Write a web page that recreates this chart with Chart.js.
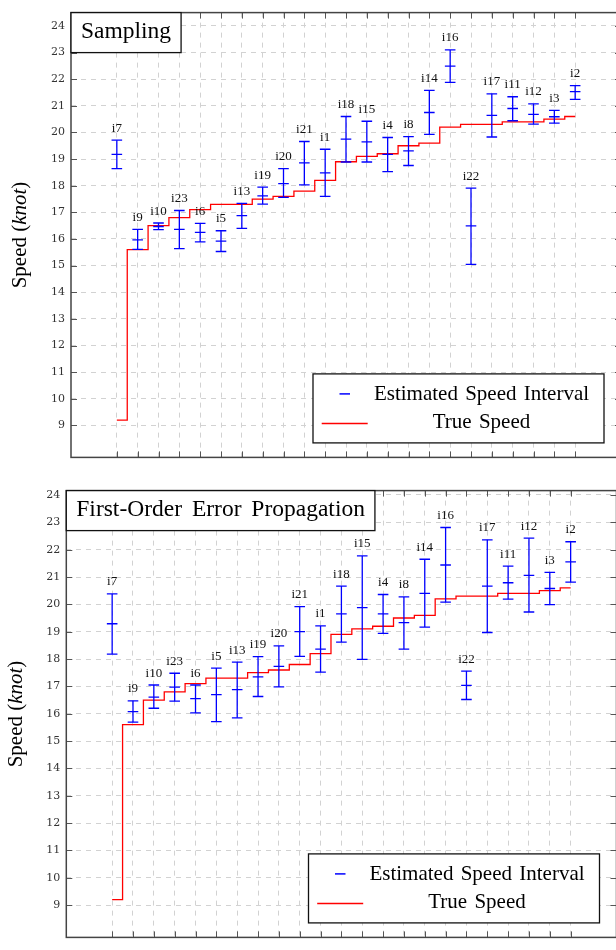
<!DOCTYPE html>
<html><head><meta charset="utf-8">
<script src="https://cdn.jsdelivr.net/npm/chart.js@4.4.1/dist/chart.umd.min.js"></script>
<style>
html,body{margin:0;padding:0;background:#fff;width:616px;height:950px;overflow:hidden}
.panel{position:absolute;left:0;width:616px;overflow:hidden}
#p1{top:0;height:470px}
#p2{top:478px;height:472px}
canvas{display:block}
</style></head><body>
<div class="panel" id="p1"><canvas id="c1" width="630" height="470" style="width:630px;height:470px"></canvas></div>
<div class="panel" id="p2"><canvas id="c2" width="630" height="472" style="width:630px;height:472px"></canvas></div>
<script>
const categories = ['i7','i9','i10','i23','i6','i5','i13','i19','i20','i21','i1','i18','i15','i4','i8','i14','i16','i22','i17','i11','i12','i3','i2'];
const trueSpeed = [9.2,15.6,16.5,16.8,17.1,17.3,17.3,17.5,17.6,17.8,18.2,18.9,19.1,19.2,19.5,19.6,20.2,20.3,20.3,20.4,20.4,20.5,20.6];

const samplingHigh = [19.71,16.36,16.60,17.07,16.59,16.31,17.34,17.95,18.64,19.66,19.37,20.60,20.42,19.81,19.84,21.58,23.10,17.91,21.45,21.34,21.07,20.83,21.76];
const samplingMean = [19.18,15.97,16.47,16.36,16.25,15.92,16.88,17.62,18.08,18.86,18.48,19.75,19.65,19.18,19.31,20.75,22.49,16.49,20.64,20.90,20.68,20.59,21.53];
const samplingLow  = [18.64,15.61,16.35,15.64,15.89,15.53,16.40,17.31,17.56,18.03,17.60,18.89,18.89,18.53,18.76,19.93,21.88,15.05,19.83,20.44,20.31,20.35,21.24];

const epHigh = [20.38,16.47,17.05,17.48,17.05,17.67,17.89,18.09,18.48,19.92,19.21,20.67,21.77,20.36,20.27,21.65,22.81,17.56,22.36,21.40,22.42,21.17,22.29];
const epMean = [19.29,16.08,16.61,16.97,16.55,16.70,16.88,17.35,17.73,19.00,18.36,19.65,19.88,19.65,19.33,20.40,21.44,17.04,20.67,20.79,21.06,20.58,21.55];
const epLow  = [18.18,15.69,16.20,16.46,16.03,15.71,15.85,16.63,16.98,18.10,17.52,18.62,17.99,18.94,18.36,19.17,20.08,16.52,18.97,20.19,19.72,19.99,20.81];

const yTicks = [9,10,11,12,13,14,15,16,17,18,19,20,21,22,23,24];

const BLUE = '#0000ff', RED = '#ff0000';

const deco = {
  id: 'deco',
  afterDatasetsDraw(chart, args, o) {
    const {ctx, chartArea: a, scales: {x, y}} = chart;
    ctx.save();
    // inward ticks
    ctx.strokeStyle = '#555'; ctx.lineWidth = 1;
    ctx.beginPath();
    x.ticks.forEach(t => {
      const px = Math.round(x.getPixelForValue(t.value)) + 0.5;
      ctx.moveTo(px, a.bottom); ctx.lineTo(px, a.bottom - 6);
      ctx.moveTo(px, a.top); ctx.lineTo(px, a.top + 6);
    });
    y.ticks.forEach(t => {
      const py = Math.round(y.getPixelForValue(t.value)) + 0.5;
      ctx.moveTo(a.left, py); ctx.lineTo(a.left + 6, py);
      ctx.moveTo(a.right, py); ctx.lineTo(a.right - 6, py);
    });
    ctx.stroke();
    // frame
    ctx.strokeStyle = '#444'; ctx.lineWidth = 1.5;
    ctx.strokeRect(a.left, a.top, a.right - a.left, a.bottom - a.top);
    // item labels
    ctx.font = '13px "Liberation Serif"'; ctx.fillStyle = '#111';
    ctx.textAlign = 'center'; ctx.textBaseline = 'alphabetic';
    o.high.forEach((v, i) => {
      ctx.fillText(categories[i], x.getPixelForValue(i), y.getPixelForValue(v) - 8.5);
    });
    // title box
    ctx.font = '23.5px "Liberation Serif"';
    try { ctx.wordSpacing = '4px'; } catch (e) {}
    const tw = ctx.measureText(o.title).width;
    ctx.fillStyle = '#fff'; ctx.fillRect(a.left, a.top, tw + 20, 40);
    ctx.strokeStyle = '#111'; ctx.lineWidth = 1.3;
    ctx.strokeRect(a.left, a.top, tw + 20, 40);
    ctx.fillStyle = '#000'; ctx.textAlign = 'left';
    ctx.fillText(o.title, a.left + 10, a.top + 25);
    // legend box
    const bw = 291, bh = 69;
    const bx = a.right - 17 - bw, by = a.bottom - 14.5 - bh;
    ctx.fillStyle = '#fff'; ctx.fillRect(bx, by, bw, bh);
    ctx.strokeStyle = '#111'; ctx.lineWidth = 1.3; ctx.strokeRect(bx, by, bw, bh);
    ctx.strokeStyle = BLUE; ctx.lineWidth = 1.5;
    ctx.beginPath(); ctx.moveTo(bx + 26.5, by + 20); ctx.lineTo(bx + 37, by + 20); ctx.stroke();
    ctx.strokeStyle = RED; ctx.lineWidth = 1.5;
    ctx.beginPath(); ctx.moveTo(bx + 8.7, by + 49.5); ctx.lineTo(bx + 54.7, by + 49.5); ctx.stroke();
    ctx.font = '21px "Liberation Serif"'; ctx.fillStyle = '#000'; ctx.textAlign = 'center';
    try { ctx.wordSpacing = '2px'; } catch (e) {}
    ctx.fillText('Estimated Speed Interval', bx + 168.5, by + 25.7);
    ctx.fillText('True Speed', bx + 168.5, by + 54.5);
    try { ctx.wordSpacing = '0px'; } catch (e) {}
    // y axis label
    ctx.translate(o.ylx, (a.top + a.bottom) / 2);
    ctx.rotate(-Math.PI / 2);
    const parts = [['Speed (', '21px "Liberation Serif"'], ['knot', 'italic 21px "Liberation Serif"'], [')', '21px "Liberation Serif"']];
    let total = 0;
    parts.forEach(p => { ctx.font = p[1]; total += ctx.measureText(p[0]).width; });
    let cx = -total / 2;
    ctx.textAlign = 'left'; ctx.fillStyle = '#000';
    parts.forEach(p => { ctx.font = p[1]; ctx.fillText(p[0], cx, 0); cx += ctx.measureText(p[0]).width; });
    ctx.restore();
  }
};

function makeChart(id, title, low, mean, high, cfg) {
  const bars = [];
  const marks = [];
  categories.forEach((c, i) => {
    bars.push({x: i, y: low[i]}, {x: i, y: high[i]}, {x: i, y: null});
    marks.push({x: i, y: low[i]}, {x: i, y: mean[i]}, {x: i, y: high[i]});
  });
  const steps = trueSpeed.map((v, i) => ({x: i, y: v}));
  return new Chart(document.getElementById(id), {
    type: 'line',
    data: {
      datasets: [
        {label: 'Estimated Speed Interval', data: bars, borderColor: BLUE, borderWidth: 1.3, pointRadius: 0, spanGaps: false, fill: false},
        {label: 'marks', data: marks, showLine: false, pointStyle: 'line', pointRadius: 5.3, pointBorderWidth: 1.3, pointBorderColor: BLUE, pointBackgroundColor: BLUE},
        {label: 'True Speed', data: steps, borderColor: RED, borderWidth: 1.3, pointRadius: 0, stepped: 'middle', fill: false}
      ]
    },
    options: {
      responsive: false, animation: false, devicePixelRatio: 1,
      layout: {padding: cfg.pad},
      plugins: {legend: {display: false}, tooltip: {enabled: false}, deco: {title: title, high: high, ylx: cfg.ylx}},
      scales: {
        x: {
          type: 'linear', min: -2.2, max: 24.2,
          afterBuildTicks: s => { s.ticks = categories.map((c, i) => ({value: i})); },
          afterFit: s => { s.height = 0; },
          ticks: {display: false},
          grid: {color: '#d2d2d2', lineWidth: 1, drawTicks: false},
          border: {display: false, dash: [5, 5]}
        },
        y: {
          min: cfg.ymin, max: cfg.ymax,
          afterBuildTicks: s => { s.ticks = yTicks.map(v => ({value: v})); },
          afterFit: s => { s.width = cfg.yw; },
          ticks: {padding: 6, color: '#333', font: {family: 'DejaVu Serif', size: 11}},
          grid: {color: '#d2d2d2', lineWidth: 1, drawTicks: false},
          border: {display: false, dash: [5, 5]}
        }
      }
    },
    plugins: [deco]
  });
}

makeChart('c1', 'Sampling', samplingLow, samplingMean, samplingHigh,
  {pad: {top: 3, right: 9, bottom: 9.3, left: 0}, yw: 71, ymin: 7.80, ymax: 24.5, ylx: 26});
makeChart('c2', 'First-Order Error Propagation', epLow, epMean, epHigh,
  {pad: {top: 10.7, right: 13.5, bottom: 3.3, left: 0}, yw: 66.3, ymin: 7.82, ymax: 24.16, ylx: 21.5});
</script>
</body></html>
